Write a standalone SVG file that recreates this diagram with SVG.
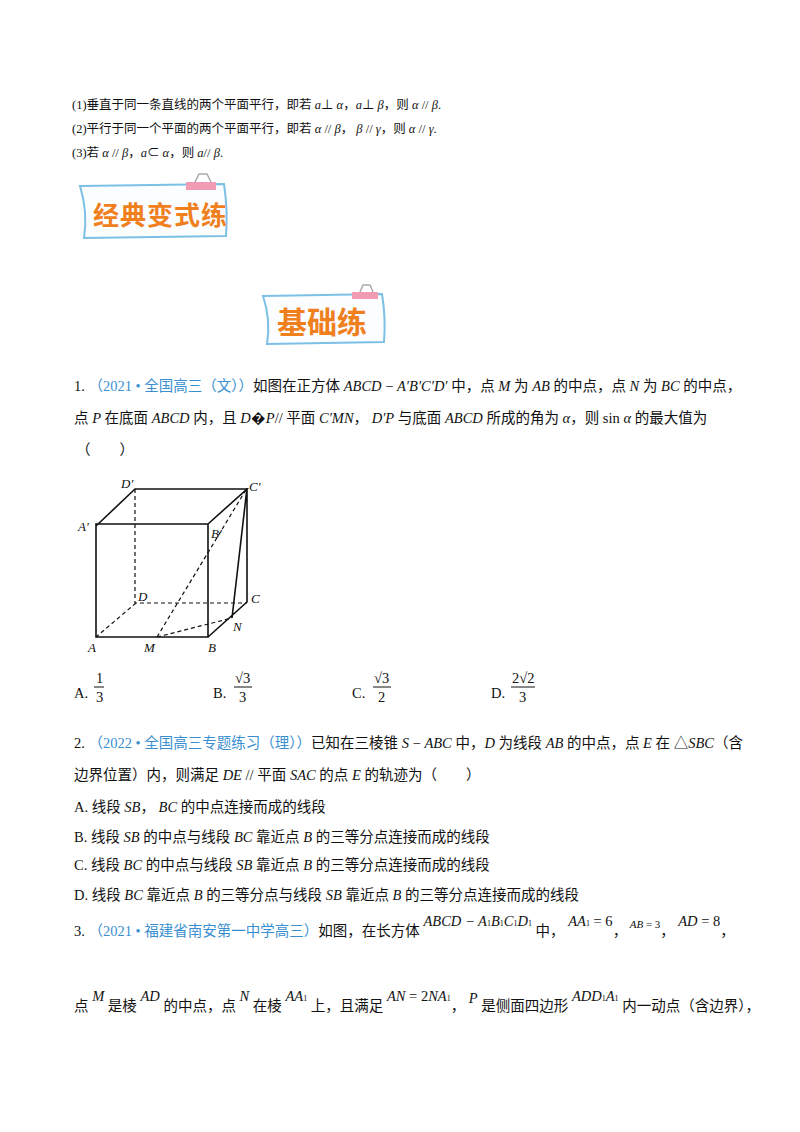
<svg xmlns="http://www.w3.org/2000/svg" width="800" height="1132" viewBox="0 0 800 1132">
<style>
text{font-family:"Liberation Serif","Noto Sans CJK SC",serif;font-size:14.5px;fill:#111}
.h{font-size:12.5px}
.i{font-style:italic}
.b{fill:#3a8fd0}
.ban{font-family:"Noto Sans CJK SC",sans-serif;font-weight:bold;fill:#f07f1e}
.s{stroke:#111;stroke-width:1.6;fill:none}
.d{stroke:#111;stroke-width:1.2;fill:none;stroke-dasharray:4 3}
.cl{font-style:italic;font-size:13px}
</style>
<rect width="800" height="1132" fill="#fff"/>
<text class="h" x="72" y="109">(1)垂直于同一条直线的两个平面平行，即若 <tspan class="i">a</tspan>⊥ <tspan class="i">α</tspan>，<tspan class="i">a</tspan>⊥ <tspan class="i">β</tspan>，则 <tspan class="i">α</tspan> // <tspan class="i">β</tspan>.</text>
<text class="h" x="72" y="133">(2)平行于同一个平面的两个平面平行，即若 <tspan class="i">α</tspan> // <tspan class="i">β</tspan>， <tspan class="i">β</tspan> // <tspan class="i">γ</tspan>，则 <tspan class="i">α</tspan> // <tspan class="i">γ</tspan>.</text>
<text class="h" x="72" y="157">(3)若 <tspan class="i">α</tspan> // <tspan class="i">β</tspan>，<tspan class="i">a</tspan>⊂ <tspan class="i">α</tspan>，则 <tspan class="i">a</tspan>// <tspan class="i">β</tspan>.</text>
<g id="banner1">
<path d="M80 186 L224 184 Q228 210 226 236 L84 238 Q88 212 80 186Z" fill="#fbfdff" stroke="#7cc0e6" stroke-width="2"/>
<rect x="186" y="182" width="30" height="8" fill="#f29bb5"/>
<path d="M195 182 l4 -8 h8 l4 8" fill="none" stroke="#aaa" stroke-width="1.5"/>
<text class="ban" x="93" y="225" style="font-size:26px;letter-spacing:1px">经典变式练</text>
</g>
<g id="banner2">
<path d="M263 296 L382 294 Q386 318 384 342 L267 344 Q271 320 263 296Z" fill="#fbfdff" stroke="#7cc0e6" stroke-width="2"/>
<rect x="352" y="292" width="26" height="7" fill="#f29bb5"/>
<path d="M360 292 l3 -7 h7 l3 7" fill="none" stroke="#aaa" stroke-width="1.5"/>
<text class="ban" x="277" y="333" style="font-size:30px">基础练</text>
</g>
<text x="74" y="391">1. <tspan class="b">（2021 • 全国高三（文））</tspan>如图在正方体 <tspan class="i">ABCD</tspan> − <tspan class="i">A′B′C′D′</tspan> 中，点 <tspan class="i">M</tspan> 为 <tspan class="i">AB</tspan> 的中点，点 <tspan class="i">N</tspan> 为 <tspan class="i">BC</tspan> 的中点，</text>
<text x="74" y="423">点 <tspan class="i">P</tspan> 在底面 <tspan class="i">ABCD</tspan> 内，且 <tspan class="i">D</tspan>�<tspan class="i">P</tspan>// 平面 <tspan class="i">C′MN</tspan>， <tspan class="i">D′P</tspan> 与底面 <tspan class="i">ABCD</tspan> 所成的角为 <tspan class="i">α</tspan>，则 sin <tspan class="i">α</tspan> 的最大值为</text>
<text x="76" y="455">（　　）</text>
<g id="cube">
<path class="s" d="M96 637 H208 V524 H96 Z M96 526 L135 489 H247 L208 524 M247 488 V602 L208 637 M247 488 L232 618"/>
<path class="d" d="M135 489 V603 H247 M136 603 L96 637 M157 637 L247 488 M157 637 L232 618"/>
<text class="cl" x="121" y="488">D′</text>
<text class="cl" x="249" y="491">C′</text>
<text class="cl" x="78" y="531">A′</text>
<text class="cl" x="211" y="538">B′</text>
<text class="cl" x="138" y="601">D</text>
<text class="cl" x="251" y="603">C</text>
<text class="cl" x="233" y="631">N</text>
<text class="cl" x="88" y="652">A</text>
<text class="cl" x="144" y="652">M</text>
<text class="cl" x="208" y="652">B</text>
</g>
<g id="options">
<text x="74" y="698">A.</text><text x="96" y="683">1</text><line x1="94" y1="687" x2="104" y2="687" stroke="#111"/><text x="96" y="702">3</text>
<text x="213" y="698">B.</text><text x="235" y="683">√3</text><line x1="234" y1="687" x2="252" y2="687" stroke="#111"/><text x="239" y="702">3</text>
<text x="352" y="698">C.</text><text x="374" y="683">√3</text><line x1="373" y1="687" x2="391" y2="687" stroke="#111"/><text x="378" y="702">2</text>
<text x="491" y="698">D.</text><text x="512" y="683">2√2</text><line x1="511" y1="687" x2="535" y2="687" stroke="#111"/><text x="519" y="702">3</text>
</g>
<text x="74" y="748">2. <tspan class="b">（2022 • 全国高三专题练习（理））</tspan>已知在三棱锥 <tspan class="i">S</tspan> − <tspan class="i">ABC</tspan> 中，<tspan class="i">D</tspan> 为线段 <tspan class="i">AB</tspan> 的中点，点 <tspan class="i">E</tspan> 在 △<tspan class="i">SBC</tspan>（含</text>
<text x="74" y="780">边界位置）内，则满足 <tspan class="i">DE</tspan> // 平面 <tspan class="i">SAC</tspan> 的点 <tspan class="i">E</tspan> 的轨迹为（　　）</text>
<text x="74" y="812">A. 线段 <tspan class="i">SB</tspan>， <tspan class="i">BC</tspan> 的中点连接而成的线段</text>
<text x="74" y="842">B. 线段 <tspan class="i">SB</tspan> 的中点与线段 <tspan class="i">BC</tspan> 靠近点 <tspan class="i">B</tspan> 的三等分点连接而成的线段</text>
<text x="74" y="870">C. 线段 <tspan class="i">BC</tspan> 的中点与线段 <tspan class="i">SB</tspan> 靠近点 <tspan class="i">B</tspan> 的三等分点连接而成的线段</text>
<text x="74" y="900">D. 线段 <tspan class="i">BC</tspan> 靠近点 <tspan class="i">B</tspan> 的三等分点与线段 <tspan class="i">SB</tspan> 靠近点 <tspan class="i">B</tspan> 的三等分点连接而成的线段</text>
<text x="74" y="936">3. <tspan class="b">（2021 • 福建省南安第一中学高三）</tspan>如图，在长方体 <tspan class="i" dy="-10">ABCD</tspan><tspan class="i"> − A</tspan><tspan font-size="8">1</tspan><tspan class="i">B</tspan><tspan font-size="8">1</tspan><tspan class="i">C</tspan><tspan font-size="8">1</tspan><tspan class="i">D</tspan><tspan font-size="8">1</tspan><tspan dy="10"> 中，</tspan><tspan class="i" dy="-10"> AA</tspan><tspan font-size="8">1</tspan><tspan> = 6</tspan><tspan dy="10">，</tspan><tspan class="i" dy="-8" font-size="11"> AB</tspan><tspan font-size="11"> = 3</tspan><tspan dy="8">，</tspan><tspan class="i" dy="-10"> AD</tspan><tspan> = 8</tspan><tspan dy="10">，</tspan></text>
<text x="74" y="1011">点 <tspan class="i" dy="-10">M</tspan><tspan dy="10"> 是棱 </tspan><tspan class="i" dy="-10">AD</tspan><tspan dy="10"> 的中点，点 </tspan><tspan class="i" dy="-10">N</tspan><tspan dy="10"> 在棱 </tspan><tspan class="i" dy="-10">AA</tspan><tspan font-size="8">1</tspan><tspan dy="10"> 上，且满足 </tspan><tspan class="i" dy="-10">AN</tspan><tspan> = 2</tspan><tspan class="i">NA</tspan><tspan font-size="8">1</tspan><tspan dy="10">， </tspan><tspan class="i" dy="-8">P</tspan><tspan dy="8"> 是侧面四边形 </tspan><tspan class="i" dy="-10">ADD</tspan><tspan font-size="8">1</tspan><tspan class="i">A</tspan><tspan font-size="8">1</tspan><tspan dy="10"> 内一动点（含边界），</tspan></text>
</svg>
